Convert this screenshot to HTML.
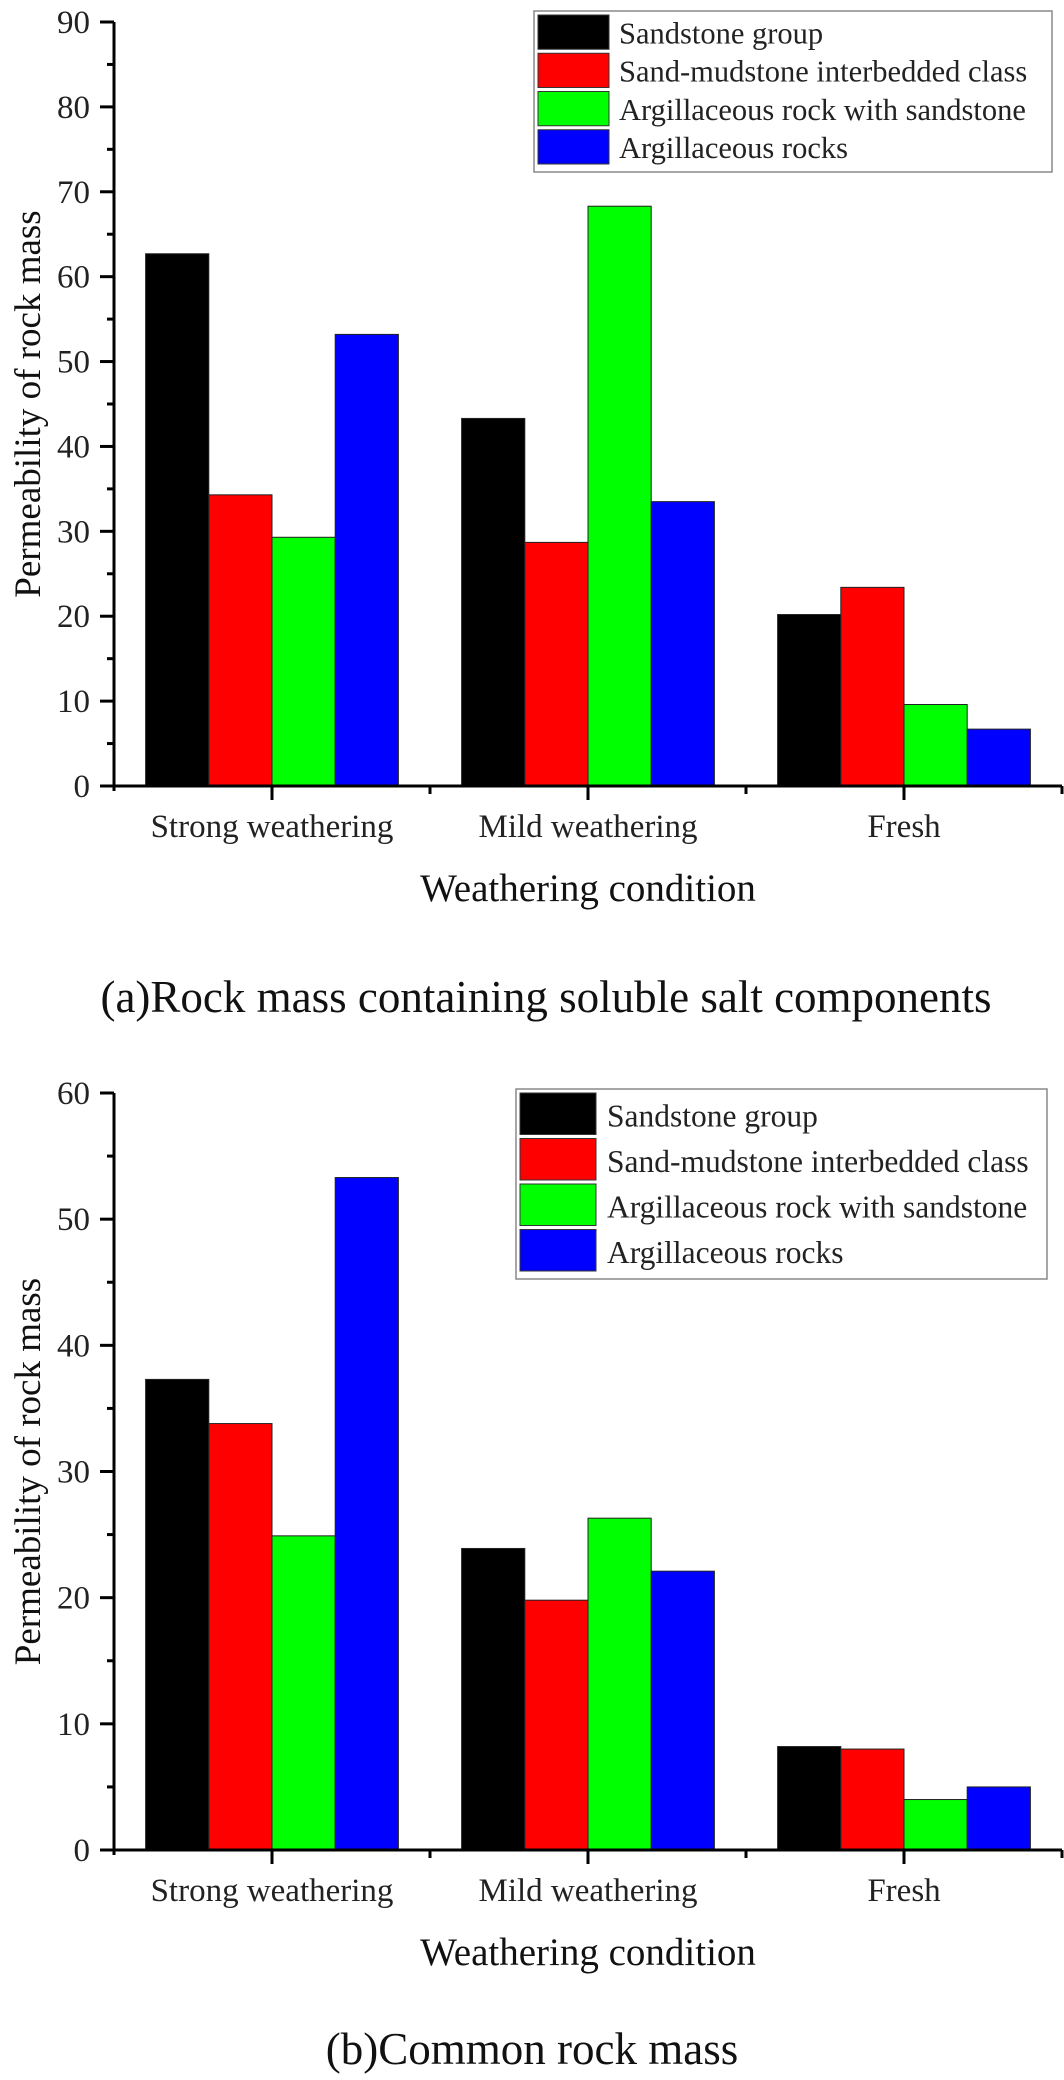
<!DOCTYPE html>
<html><head><meta charset="utf-8"><style>
html,body{margin:0;padding:0;background:#fff;}
svg{display:block;font-family:"Liberation Serif",serif;}
</style></head><body>
<svg id="fig" width="1064" height="2080" viewBox="0 0 1064 2080"></svg>
<script>
const categories = ["Strong weathering","Mild weathering","Fresh"];
const seriesNames = ["Sandstone group","Sand-mudstone interbedded class","Argillaceous rock with sandstone","Argillaceous rocks"];
const colors = ["#000000","#ff0000","#00ff00","#0000ff"];
const saltSandstone = [62.7, 43.3, 20.2];
const saltSandMud = [34.3, 28.7, 23.4];
const saltArgSand = [29.3, 68.3, 9.6];
const saltArg = [53.2, 33.5, 6.7];
const commonSandstone = [37.3, 23.9, 8.2];
const commonSandMud = [33.8, 19.8, 8.0];
const commonArgSand = [24.9, 26.3, 4.0];
const commonArg = [53.3, 22.1, 5.0];
const ticksA = [0,10,20,30,40,50,60,70,80,90];
const ticksB = [0,10,20,30,40,50,60];

const NS="http://www.w3.org/2000/svg";
const svg=document.getElementById('fig');
function mk(tag,attrs,parent,text){const e=document.createElementNS(NS,tag);for(const k in attrs)e.setAttribute(k,attrs[k]);if(text!==undefined)e.textContent=text;(parent||svg).appendChild(e);return e;}

function chart(cfg){
  const g=mk('g',{});
  
  
  const x0=114,x1=1062,groupW=(x1-x0)/categories.length,barW=groupW*0.8/4;
  const y=v=>cfg.zeroY-(v-0)*(cfg.zeroY-cfg.topY)/cfg.max;
  const xc=i=>x0+groupW*(i+0.5);
  cfg.series.forEach((arr,s)=>{
    arr.forEach((v,i)=>{
      const r=mk('rect',{x:xc(i)-2*barW+s*barW,y:y(v),width:barW,height:y(0)-y(v),fill:colors[s],stroke:'#222','stroke-width':1},g);
      
      
    });
  });
  const ya=mk('line',{x1:x0,y1:cfg.topY,x2:x0,y2:cfg.zeroY+5,stroke:'#000','stroke-width':3},g);
  
  
  const xa=mk('line',{x1:x0-1,y1:cfg.zeroY,x2:x1,y2:cfg.zeroY,stroke:'#000','stroke-width':3},g);
  
  
  cfg.ticks.forEach((t,k)=>{
    mk('line',{x1:x0-14,y1:y(t),x2:x0,y2:y(t),stroke:'#000','stroke-width':3},g);
    const tl=mk('text',{x:90,y:y(t)+11,'text-anchor':'end','font-size':33,fill:'#222'},g,String(t));
    
    
    if(k<cfg.ticks.length-1){const m=(t+cfg.ticks[k+1])/2;mk('line',{x1:x0-7,y1:y(m),x2:x0,y2:y(m),stroke:'#000','stroke-width':3},g);}
  });
  categories.forEach((c,i)=>{
    mk('line',{x1:xc(i),y1:cfg.zeroY,x2:xc(i),y2:cfg.zeroY+14,stroke:'#000','stroke-width':3},g);
    mk('line',{x1:x0+groupW*(i+1),y1:cfg.zeroY,x2:x0+groupW*(i+1),y2:cfg.zeroY+8,stroke:'#000','stroke-width':3},g);
    const tl=mk('text',{x:xc(i),y:cfg.zeroY+51,'text-anchor':'middle','font-size':33,fill:'#222'},g,c);
    
    
  });
  const xt=mk('text',{x:588,y:cfg.zeroY+115,'text-anchor':'middle','font-size':39,fill:'#111'},g,'Weathering condition');
  
  
  const ytc=(cfg.topY+cfg.zeroY)/2;
  const yt=mk('text',{x:0,y:0,'text-anchor':'middle','font-size':37,fill:'#111',transform:`translate(40,${ytc}) rotate(-90)`},g,'Permeability of rock mass');
  
  
  const L=cfg.legend;
  const lg=mk('g',{},g);
  
  
  mk('rect',{x:L.x,y:L.y,width:L.w,height:L.h,fill:'#fff',stroke:'#888','stroke-width':1.5},lg);
  const rowH=(L.h-8)/4;
  seriesNames.forEach((n,s)=>{
    const e=mk('g',{},lg);
    
    
    mk('rect',{x:L.x+4,y:L.y+4+s*rowH,width:L.sw,height:rowH-4,fill:colors[s],stroke:'#333','stroke-width':1},e);
    mk('text',{x:L.tx,y:L.y+4+s*rowH+rowH*0.74,'font-size':L.fs,fill:'#222'},e,n);
  });
  const cap=mk('text',{x:cfg.capX,y:cfg.capY,'text-anchor':'middle','font-size':45,fill:'#111'},svg,cfg.caption);
  
  
}

chart({name:'chart-a-soluble-salt',short:'a',series:[saltSandstone,saltSandMud,saltArgSand,saltArg],ticks:ticksA,max:90,topY:22,zeroY:786,
  legend:{x:534,y:11,w:518,h:161,sw:71,tx:619,fs:30.5},caption:'(a)Rock mass containing soluble salt components',capX:546,capY:1012});
chart({name:'chart-b-common-rock',short:'b',series:[commonSandstone,commonSandMud,commonArgSand,commonArg],ticks:ticksB,max:60,topY:1093,zeroY:1850,
  legend:{x:516,y:1089,w:531,h:190,sw:76,tx:607,fs:31.5},caption:'(b)Common rock mass',capX:532,capY:2064});
</script>
</body></html>
